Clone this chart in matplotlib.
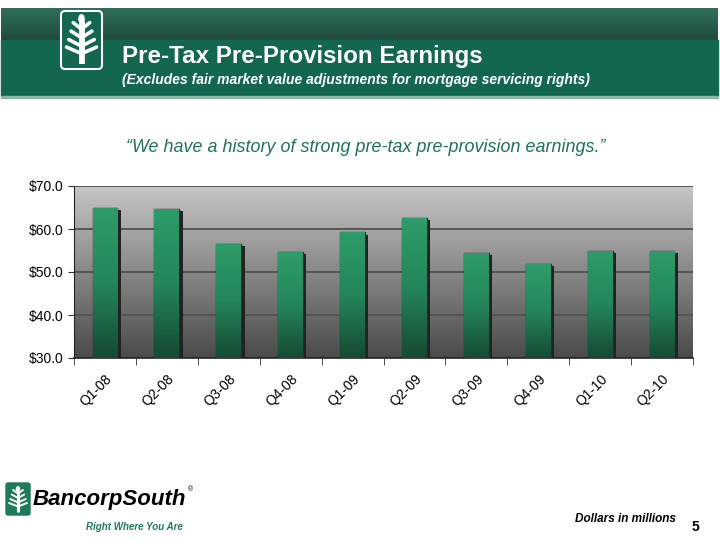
"""Pre-tax pre-provision earnings by quarter, slide-style bar chart."""

import matplotlib.pyplot as plt
import numpy as np
from matplotlib.colors import LinearSegmentedColormap
from matplotlib.patches import FancyBboxPatch, Rectangle, Ellipse

quarters = ["Q1-08", "Q2-08", "Q3-08", "Q4-08", "Q1-09",
            "Q2-09", "Q3-09", "Q4-09", "Q1-10", "Q2-10"]
earnings = [65.0, 64.7, 56.6, 54.6, 59.2, 62.5, 54.4, 51.8, 54.9, 54.9]
y_ticks = [30, 40, 50, 60, 70]

GREEN = "#136650"
W, H = 720, 543

plt.rcParams["font.family"] = ["Liberation Sans", "DejaVu Sans"]
fig = plt.figure(figsize=(W / 100, H / 100), dpi=100)
fig.patch.set_facecolor("white")

# full-figure overlay in pixel coordinates (y down)
bg = fig.add_axes([0, 0, 1, 1], zorder=0)
bg.set_xlim(0, W)
bg.set_ylim(H, 0)
bg.axis("off")

# header band
band = np.linspace(0, 1, 64).reshape(-1, 1)
dark = LinearSegmentedColormap.from_list("hdr", ["#2F6F5C", "#1F4A3C"])
bg.imshow(band, cmap=dark, extent=(1, 718, 40, 8), aspect="auto", zorder=1)
bg.add_patch(Rectangle((1, 40), 717, 56, color=GREEN, zorder=1))
bg.add_patch(Rectangle((1, 96), 717, 2, color="#8DB5A5", zorder=1))


def tree(cx, top, bottom, half_w, color, lw):
    bg.plot([cx, cx], [top + 4, bottom], color=color, lw=lw * 1.6,
            solid_capstyle="butt", zorder=4)
    span = bottom - top
    for i, frac in enumerate([0.12, 0.3, 0.48, 0.64]):
        y = top + span * frac
        reach = half_w * (0.55 + 0.15 * i)
        for s in (-1, 1):
            bg.plot([cx, cx + s * reach], [y + span * 0.14, y],
                    color=color, lw=lw, solid_capstyle="round", zorder=4)
    bg.add_patch(Ellipse((cx, top + 2), half_w * 0.35, span * 0.18,
                         color=color, zorder=4))


bg.add_patch(FancyBboxPatch((61, 11), 41, 58, boxstyle="round,pad=0,rounding_size=4",
                            fc=GREEN, ec="white", lw=1.5, zorder=3))
tree(81.5, 17, 64, 15, "white", 2.6)

fig.text(122 / W, 1 - 57 / H, "Pre-Tax Pre-Provision Earnings", color="white",
         fontsize=17.4, fontweight="bold", va="center", ha="left")
fig.text(122 / W, 1 - 80 / H,
         "(Excludes fair market value adjustments for mortgage servicing rights)",
         color="white", fontsize=10, fontweight="bold", style="italic",
         va="center", ha="left")

fig.text(366 / W, 1 - 148 / H,
         "\u201cWe have a history of strong pre-tax pre-provision earnings.\u201d",
         color="#1F7452", fontsize=12.9, style="italic", va="center", ha="center")

# footer
bg.add_patch(FancyBboxPatch((6, 483), 24, 32, boxstyle="round,pad=0,rounding_size=2",
                            fc="#1E7A57", ec="#1E7A57", lw=1, zorder=3))
tree(18, 487, 512, 9, "white", 1.4)
fig.text(33 / W, 1 - 500 / H, "BancorpSouth", color="black", fontsize=16,
         fontweight="bold", style="italic", va="center", ha="left")
fig.text(188 / W, 1 - 490 / H, "\u00ae", color="black", fontsize=5,
         va="center", ha="left")
fig.text(134 / W, 1 - 527 / H, "Right Where You Are", color="#1E7A57",
         fontsize=7, fontweight="bold", style="italic", va="center", ha="center")
fig.text(676 / W, 1 - 519 / H, "Dollars in millions", color="black", fontsize=8.5,
         fontweight="bold", style="italic", va="center", ha="right")
fig.text(695 / W, 1 - 527 / H, "5", color="black", fontsize=10,
         fontweight="bold", va="center", ha="center")

# chart
ax = fig.add_axes([74 / W, (H - 358) / H, 619 / W, 172 / H], zorder=2)
x = np.arange(len(quarters))
ax.set_xlim(-0.5, len(quarters) - 0.5)
ax.set_ylim(y_ticks[0], y_ticks[-1])

grey = LinearSegmentedColormap.from_list("bgg", ["#C6C4C4", "#4B4B4B"])
ax.imshow(band, cmap=grey, extent=(-0.5, len(quarters) - 0.5, 30, 70),
          aspect="auto", zorder=0)
for yv in y_ticks[1:]:
    ax.axhline(yv, color="#555555", lw=1.4, zorder=1)

bar_w = 0.4
ax.bar(x + 0.055, np.array(earnings) - 0.5 - 30, bottom=30, width=bar_w,
       color="#222222", zorder=2)
bars = ax.bar(x, np.array(earnings) - 30, bottom=30, width=bar_w,
              color="#1E7A52", edgecolor="#2A2A2A", lw=1.0, zorder=3)
green = LinearSegmentedColormap.from_list("bar", ["#2E9C69", "#248659", "#164A33"])
for b, val in zip(bars, earnings):
    im = ax.imshow(band, cmap=green, aspect="auto", zorder=3,
                   extent=(b.get_x(), b.get_x() + bar_w, 30, val))
    im.set_clip_path(b)

ax.set_yticks(y_ticks, labels=[f"${v:.1f}" for v in y_ticks])
ax.set_xticks(x, labels=quarters, rotation=45, ha="right", rotation_mode="anchor")
ax.set_xticks(np.arange(len(quarters) + 1) - 0.5, minor=True)
ax.tick_params(axis="x", which="major", length=0, pad=10, labelsize=10)
ax.tick_params(axis="x", which="minor", length=5, color="#333333")
ax.tick_params(axis="y", length=4, labelsize=10, color="#333333")
for side in ("top", "right"):
    ax.spines[side].set_visible(False)
ax.spines["left"].set_color("#222222")
ax.spines["bottom"].set_color("#222222")
ax.spines["bottom"].set_linewidth(1.2)

fig.savefig("out.png", dpi=100)
